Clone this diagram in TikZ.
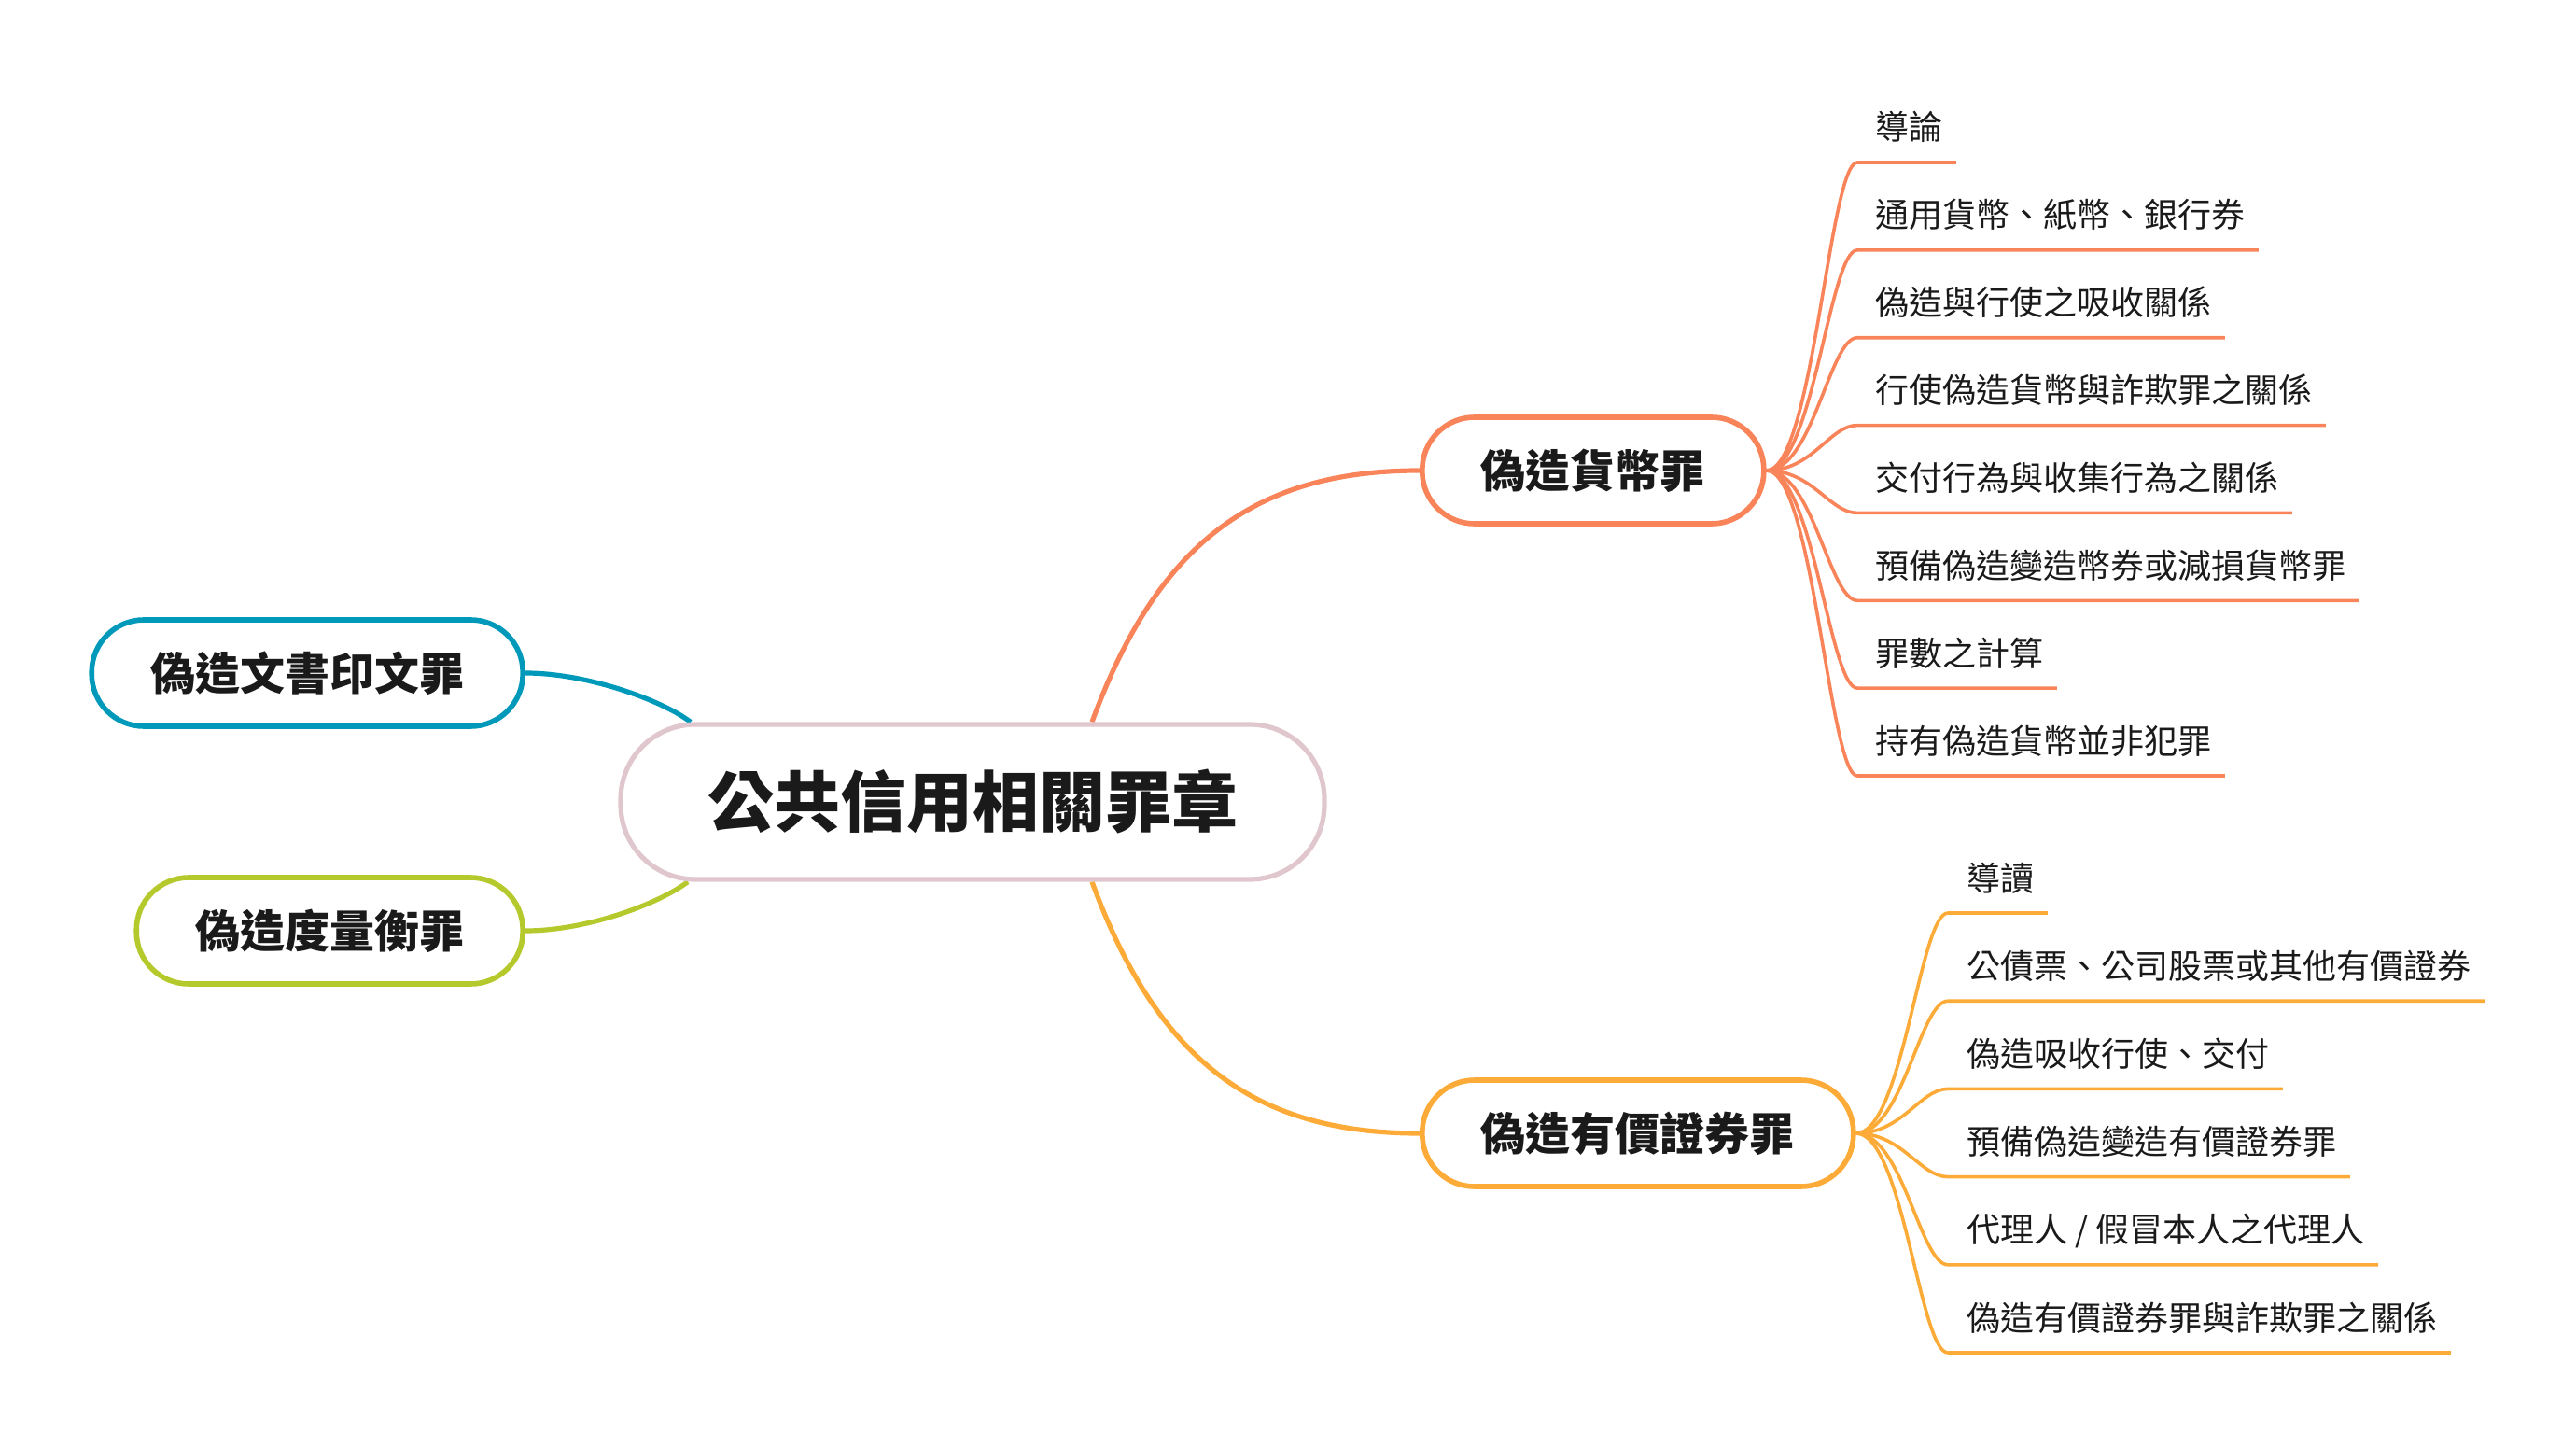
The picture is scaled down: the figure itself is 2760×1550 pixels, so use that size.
\documentclass[tikz,border=0pt]{standalone}
\usepackage{fontspec}
\newfontfamily\cjk{Noto Sans CJK TC}
\usetikzlibrary{calc}
\pgfdeclarelayer{background}
\pgfsetlayers{background,main}
\definecolor{cOrange}{HTML}{F9845A}
\definecolor{cYellow}{HTML}{FDAB38}
\definecolor{cBlue}{HTML}{0099B9}
\definecolor{cGreen}{HTML}{B6C92C}
\definecolor{cPink}{HTML}{E0C6CD}
\definecolor{cText}{HTML}{1A1A1A}
\begin{document}
\begin{tikzpicture}[x=0.5pt,y=-0.5pt,
  font=\cjk, text=cText,
  centre/.style={draw=cPink, line width=2.6pt, fill=white, rounded corners=40pt,
    minimum height=83pt, inner xsep=46.5pt, inner ysep=0pt,
    font=\cjk\bfseries\fontsize{35.5pt}{40pt}\selectfont},
  topic/.style={draw=#1, line width=2.8pt, fill=white, rounded corners=28pt,
    minimum height=57pt, inner xsep=31.5pt, inner ysep=0pt,
    font=\cjk\bfseries\fontsize{24pt}{28pt}\selectfont},
  conn/.style={draw=#1, line width=2.6pt},
  twig/.style={draw=#1, line width=1.8pt},
  leaf/.style={inner sep=0pt, font=\cjk\fontsize{18pt}{22pt}\selectfont},
]
\useasboundingbox (0,0) rectangle (2760,1550);

% nodes
\node[centre] (c) at (1042,859) {公共信用相關罪章};
\node[topic=cOrange, anchor=west] (n1) at (1521,504) {偽造貨幣罪};
\node[topic=cYellow, anchor=west] (n2) at (1521,1214) {偽造有價證券罪};
\node[topic=cBlue, anchor=east] (n3) at (563,721) {偽造文書印文罪};
\node[topic=cGreen, anchor=east] (n4) at (563,997) {偽造度量衡罪};

\begin{pgfonlayer}{background}
% main connectors
\draw[conn=cOrange] ([xshift=64pt]c.north) .. controls +(69,-188) and +(-180,0) .. (n1.west);
\draw[conn=cYellow] ([xshift=64pt]c.south) .. controls +(69,188) and +(-180,0) .. (n2.west);
\draw[conn=cBlue] (n3.east) .. controls +(65,0) and +(-32,-24) .. ([xshift=-151pt]c.north);
\draw[conn=cGreen] (n4.east) .. controls +(65,0) and +(-32,24) .. ([xshift=-152.5pt]c.south);
\end{pgfonlayer}

% branch 1 children
\foreach \i/\t in {0/{導論},1/{通用貨幣、紙幣、銀行券},2/{偽造與行使之吸收關係},3/{行使偽造貨幣與詐欺罪之關係},4/{交付行為與收集行為之關係},5/{預備偽造變造幣券或減損貨幣罪},6/{罪數之計算},7/{持有偽造貨幣並非犯罪}} {
  \pgfmathsetmacro\yy{174+93.86*\i}
  \coordinate (pa\i) at (1990,\yy);
  \node[leaf, anchor=base west] (pt\i) at (2009,\yy-24) {\t};
  \begin{pgfonlayer}{background}
  \draw[twig=cOrange] (n1.east) .. controls +(50,0) and (1960,\yy) .. (pa\i) -- ([xshift=7pt]pt\i.east |- pa\i);
  \end{pgfonlayer}
}

% branch 2 children
\foreach \i/\t in {0/{導讀},1/{公債票、公司股票或其他有價證券},2/{偽造吸收行使、交付},3/{預備偽造變造有價證券罪},4/{代理人 / 假冒本人之代理人},5/{偽造有價證券罪與詐欺罪之關係}} {
  \pgfmathsetmacro\yy{978+94.2*\i}
  \coordinate (qa\i) at (2087,\yy);
  \node[leaf, anchor=base west] (qt\i) at (2107,\yy-24) {\t};
  \begin{pgfonlayer}{background}
  \draw[twig=cYellow] (n2.east) .. controls +(50,0) and (2057,\yy) .. (qa\i) -- ([xshift=7pt]qt\i.east |- qa\i);
  \end{pgfonlayer}
}
\end{tikzpicture}
\end{document}
